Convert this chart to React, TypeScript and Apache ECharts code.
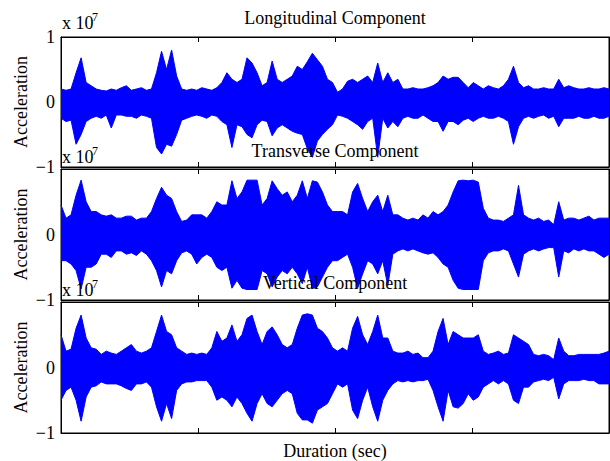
import React, { useEffect, useRef } from "react";
import * as echarts from "echarts";

// sample spacing along the duration axis, and axis extent / tick step
const STEP = 5;
const X_MAX = 545;
const X_TICK = 136.25;

const PANEL_TITLES = ["Longitudinal Component", "Transverse Component", "Vertical Component"];
const Y_TICKS = [-1, 0, 1];

// envelope of each component (upper / lower), in units of 1e7
const LONG_UP = [
  0.2, 0.18, 0.2, 0.45, 0.68, 0.3, 0.25, 0.2, 0.18, 0.17,
  0.2, 0.18, 0.22, 0.25, 0.18, 0.2, 0.22, 0.18, 0.2, 0.45,
  0.78, 0.5, 0.8, 0.4, 0.2, 0.18, 0.2, 0.18, 0.22, 0.2,
  0.18, 0.22, 0.3, 0.45, 0.35, 0.3, 0.35, 0.68, 0.6, 0.45,
  0.25, 0.3, 0.63, 0.35, 0.3, 0.35, 0.4, 0.55, 0.5, 0.62,
  0.75, 0.65, 0.55, 0.35, 0.3,
  0.15, 0.2, 0.32, 0.35, 0.3, 0.35, 0.4, 0.3, 0.6, 0.3,
  0.45, 0.3, 0.35, 0.2, 0.2, 0.22, 0.2, 0.2, 0.22, 0.25,
  0.3, 0.4, 0.35, 0.38, 0.38, 0.3, 0.22, 0.3, 0.25, 0.2,
  0.25, 0.22, 0.2, 0.25, 0.35, 0.55, 0.3, 0.22, 0.25, 0.2,
  0.2, 0.22, 0.2, 0.2, 0.35, 0.22, 0.25, 0.22, 0.2, 0.2,
  0.22, 0.2, 0.2, 0.22, 0.2,
];
const LONG_LO = [
  -0.25, -0.3, -0.28, -0.65, -0.5, -0.3, -0.25, -0.22, -0.25, -0.2,
  -0.4, -0.2, -0.2, -0.22, -0.22, -0.25, -0.2, -0.22, -0.25, -0.7,
  -0.8, -0.65, -0.68, -0.5, -0.28, -0.25, -0.22, -0.2, -0.22, -0.25,
  -0.2, -0.22, -0.3, -0.35, -0.7, -0.35, -0.38, -0.5, -0.55, -0.35,
  -0.28, -0.3, -0.52, -0.4, -0.35, -0.4, -0.45, -0.48, -0.5, -0.72,
  -0.85, -0.6, -0.5, -0.42, -0.35,
  -0.2, -0.22, -0.25, -0.3, -0.35, -0.42, -0.3, -0.25, -0.85, -0.25,
  -0.4, -0.3, -0.38, -0.25, -0.22, -0.25, -0.25, -0.2, -0.25, -0.3,
  -0.3, -0.45, -0.3, -0.3, -0.35, -0.28, -0.25, -0.3, -0.25, -0.22,
  -0.25, -0.25, -0.22, -0.25, -0.3, -0.65, -0.38, -0.25, -0.22, -0.25,
  -0.22, -0.2, -0.25, -0.22, -0.38, -0.25, -0.25, -0.25, -0.22, -0.25,
  -0.25, -0.22, -0.25, -0.25, -0.22,
];
const TRANS_UP = [
  0.45, 0.25, 0.3, 0.6, 0.83, 0.5, 0.35, 0.35, 0.3, 0.28,
  0.3, 0.25, 0.25, 0.28, 0.28, 0.22, 0.25, 0.25, 0.35, 0.55,
  0.72, 0.6, 0.55, 0.35, 0.2, 0.22, 0.3, 0.3, 0.3, 0.25,
  0.35, 0.5, 0.45, 0.45, 0.82, 0.55, 0.65, 0.83, 0.83, 0.83,
  0.45, 0.55, 0.82, 0.7, 0.6, 0.65, 0.5, 0.6, 0.82, 0.55,
  0.82, 0.8, 0.65, 0.45, 0.35,
  0.35, 0.35, 0.3, 0.65, 0.78, 0.55, 0.35, 0.5, 0.6, 0.35,
  0.6, 0.3, 0.3, 0.25, 0.22, 0.25, 0.22, 0.3, 0.25, 0.35,
  0.3, 0.35, 0.45, 0.65, 0.82, 0.83, 0.82, 0.83, 0.8, 0.4,
  0.25, 0.22, 0.22, 0.2, 0.25, 0.3, 0.75, 0.3, 0.25, 0.22,
  0.25, 0.2, 0.22, 0.15, 0.5, 0.22, 0.25, 0.25, 0.22, 0.25,
  0.28, 0.22, 0.25, 0.25, 0.25,
];
const TRANS_LO = [
  -0.4, -0.4, -0.45, -0.55, -0.83, -0.5, -0.5, -0.45, -0.3, -0.3,
  -0.35, -0.25, -0.25, -0.3, -0.28, -0.32, -0.25, -0.3, -0.4, -0.55,
  -0.8, -0.55, -0.6, -0.4, -0.28, -0.25, -0.3, -0.45, -0.35, -0.3,
  -0.35, -0.5, -0.55, -0.5, -0.82, -0.7, -0.82, -0.84, -0.84, -0.84,
  -0.55, -0.6, -0.8, -0.65, -0.55, -0.6, -0.5, -0.6, -0.75, -0.5,
  -0.82, -0.8, -0.65, -0.5, -0.4,
  -0.4, -0.35, -0.3, -0.5, -0.82, -0.6, -0.4, -0.45, -0.6, -0.4,
  -0.78, -0.3, -0.25, -0.22, -0.25, -0.22, -0.25, -0.28, -0.3, -0.28,
  -0.35, -0.45, -0.5, -0.7, -0.82, -0.84, -0.84, -0.84, -0.84, -0.4,
  -0.28, -0.25, -0.25, -0.22, -0.25, -0.45, -0.65, -0.3, -0.25, -0.22,
  -0.25, -0.22, -0.2, -0.2, -0.65, -0.25, -0.28, -0.22, -0.25, -0.22,
  -0.25, -0.25, -0.3, -0.35, -0.3,
];
const VERT_UP = [
  0.5, 0.25, 0.28, 0.6, 0.8, 0.45, 0.3, 0.28, 0.2, 0.25,
  0.22, 0.2, 0.25, 0.3, 0.35, 0.25, 0.22, 0.25, 0.3, 0.55,
  0.8, 0.55, 0.5, 0.3, 0.25, 0.2, 0.22, 0.2, 0.22, 0.2,
  0.3, 0.55, 0.4, 0.45, 0.65, 0.4, 0.5, 0.75, 0.8, 0.55,
  0.35, 0.55, 0.62, 0.5, 0.35, 0.3, 0.35, 0.6, 0.8, 0.82,
  0.8, 0.6, 0.55, 0.45, 0.3,
  0.25, 0.3, 0.25, 0.6, 0.78, 0.5, 0.35, 0.55, 0.8, 0.45,
  0.45, 0.25, 0.22, 0.22, 0.25, 0.2, 0.22, 0.15, 0.15, 0.25,
  0.55, 0.75, 0.35, 0.55, 0.5, 0.45, 0.45, 0.45, 0.5, 0.25,
  0.2, 0.22, 0.25, 0.2, 0.22, 0.5, 0.45, 0.4, 0.35, 0.2,
  0.18, 0.2, 0.18, 0.12, 0.45, 0.25, 0.18, 0.18, 0.2, 0.2,
  0.2, 0.2, 0.2, 0.22, 0.25,
];
const VERT_LO = [
  -0.5, -0.35, -0.3, -0.5, -0.82, -0.45, -0.3, -0.28, -0.22, -0.25,
  -0.25, -0.25, -0.28, -0.32, -0.35, -0.25, -0.25, -0.22, -0.3, -0.6,
  -0.82, -0.55, -0.78, -0.35, -0.25, -0.22, -0.22, -0.2, -0.2, -0.2,
  -0.3, -0.5, -0.45, -0.5, -0.6, -0.45, -0.55, -0.7, -0.82, -0.55,
  -0.4, -0.55, -0.6, -0.5, -0.4, -0.35, -0.4, -0.7, -0.8, -0.8,
  -0.85, -0.65, -0.6, -0.55, -0.4,
  -0.25, -0.3, -0.25, -0.65, -0.78, -0.5, -0.3, -0.6, -0.82, -0.5,
  -0.35, -0.25, -0.2, -0.22, -0.2, -0.22, -0.2, -0.2, -0.18, -0.35,
  -0.6, -0.82, -0.35, -0.6, -0.62, -0.55, -0.4, -0.5, -0.45, -0.3,
  -0.25, -0.2, -0.25, -0.2, -0.25, -0.5, -0.55, -0.3, -0.3, -0.22,
  -0.2, -0.18, -0.2, -0.15, -0.48, -0.25, -0.2, -0.2, -0.2, -0.18,
  -0.2, -0.2, -0.25, -0.25, -0.25,
];

const PANELS = [
  { up: LONG_UP, lo: LONG_LO },
  { up: TRANS_UP, lo: TRANS_LO },
  { up: VERT_UP, lo: VERT_LO },
];

const FONT = '"Liberation Serif", "Times New Roman", serif';
const BLUE = "#0000ff";

export default function App() {
  const ref = useRef<HTMLDivElement>(null);
  useEffect(() => {
    const chart = echarts.init(ref.current!, null, { renderer: "svg" });
    const tops = [37, 169, 302];
    const heights = [130, 131, 131];
    const grids = tops.map((t, i) => ({
      left: 61,
      top: t,
      width: 548,
      height: heights[i],
      show: true,
      borderColor: "#000",
      borderWidth: 1,
      backgroundColor: "transparent",
    }));
    const xAxes: any[] = [];
    const yAxes: any[] = [];
    const series: any[] = [];
    PANELS.forEach((p, g) => {
      ["bottom", "top"].forEach((pos) => {
        xAxes.push({
          type: "value",
          gridIndex: g,
          position: pos,
          min: 0,
          max: X_MAX,
          interval: X_TICK,
          axisLine: { show: true, onZero: false, lineStyle: { color: "#000", width: 1 } },
          axisTick: { show: true, inside: true, length: 5, lineStyle: { color: "#000" } },
          axisLabel: { show: false },
          splitLine: { show: false },
        });
      });
      ["left", "right"].forEach((pos) => {
        yAxes.push({
          type: "value",
          gridIndex: g,
          position: pos,
          min: Y_TICKS[0],
          max: Y_TICKS[Y_TICKS.length - 1],
          interval: 1,
          axisLine: { show: true, onZero: false, lineStyle: { color: "#000", width: 1 } },
          axisTick: { show: true, inside: true, length: 5, lineStyle: { color: "#000" } },
          axisLabel: {
            show: pos === "left",
            showMaxLabel: g === 0,
            margin: 6,
            color: "#000",
            fontFamily: FONT,
            fontSize: 18,
            formatter: (v: number) => (v < 0 ? "\u2212" + Math.abs(v) : String(v)),
          },
          splitLine: { show: false },
        });
      });
      // upper and lower envelopes, each filled toward the zero line (slightly overlapping)
      [
        { arr: p.up, origin: -0.03 },
        { arr: p.lo, origin: 0.03 },
      ].forEach(({ arr, origin }) => {
        series.push({
          type: "line",
          xAxisIndex: 2 * g,
          yAxisIndex: 2 * g,
          data: arr.map((v, i) => [i * STEP, v]),
          showSymbol: false,
          symbol: "none",
          lineStyle: { color: BLUE, width: 1 },
          itemStyle: { color: BLUE },
          areaStyle: { color: BLUE, opacity: 1, origin },
          silent: true,
        });
      });
    });

    const graphic: any[] = [];
    const titleY = [17.5, 150.5, 282.5];
    const expY = [22.5, 156.5, 289.5];
    const supY = [17.3, 151.3, 284.3];
    const accY = [102, 234.5, 367.5];
    PANEL_TITLES.forEach((t, g) => {
      graphic.push({
        type: "text",
        x: 335,
        y: titleY[g],
        z: 100,
        style: { text: t, fontFamily: FONT, fontSize: 18, fill: "#000", align: "center", verticalAlign: "middle" },
      });
      graphic.push({
        type: "text",
        x: 62,
        y: expY[g],
        z: 100,
        style: { text: "x 10", fontFamily: FONT, fontSize: 18, fill: "#000", align: "left", verticalAlign: "middle" },
      });
      graphic.push({
        type: "text",
        x: 92,
        y: supY[g],
        z: 100,
        style: { text: "7", fontFamily: FONT, fontSize: 12, fill: "#000", align: "left", verticalAlign: "middle" },
      });
      graphic.push({
        type: "text",
        x: 21,
        y: accY[g],
        rotation: Math.PI / 2,
        z: 100,
        style: { text: "Acceleration", fontFamily: FONT, fontSize: 18, fill: "#000", align: "center", verticalAlign: "middle" },
      });
    });
    graphic.push({
      type: "text",
      x: 335,
      y: 450.5,
      z: 100,
      style: { text: "Duration (sec)", fontFamily: FONT, fontSize: 18, fill: "#000", align: "center", verticalAlign: "middle" },
    });

    chart.setOption({
      animation: false,
      backgroundColor: "#fff",
      grid: grids,
      xAxis: xAxes,
      yAxis: yAxes,
      series,
      graphic,
    });
    return () => chart.dispose();
  }, []);
  return (
    <div
      ref={ref}
      style={{ position: "absolute", left: 0, top: 0, width: 610, height: 461 }}
    />
  );
}
